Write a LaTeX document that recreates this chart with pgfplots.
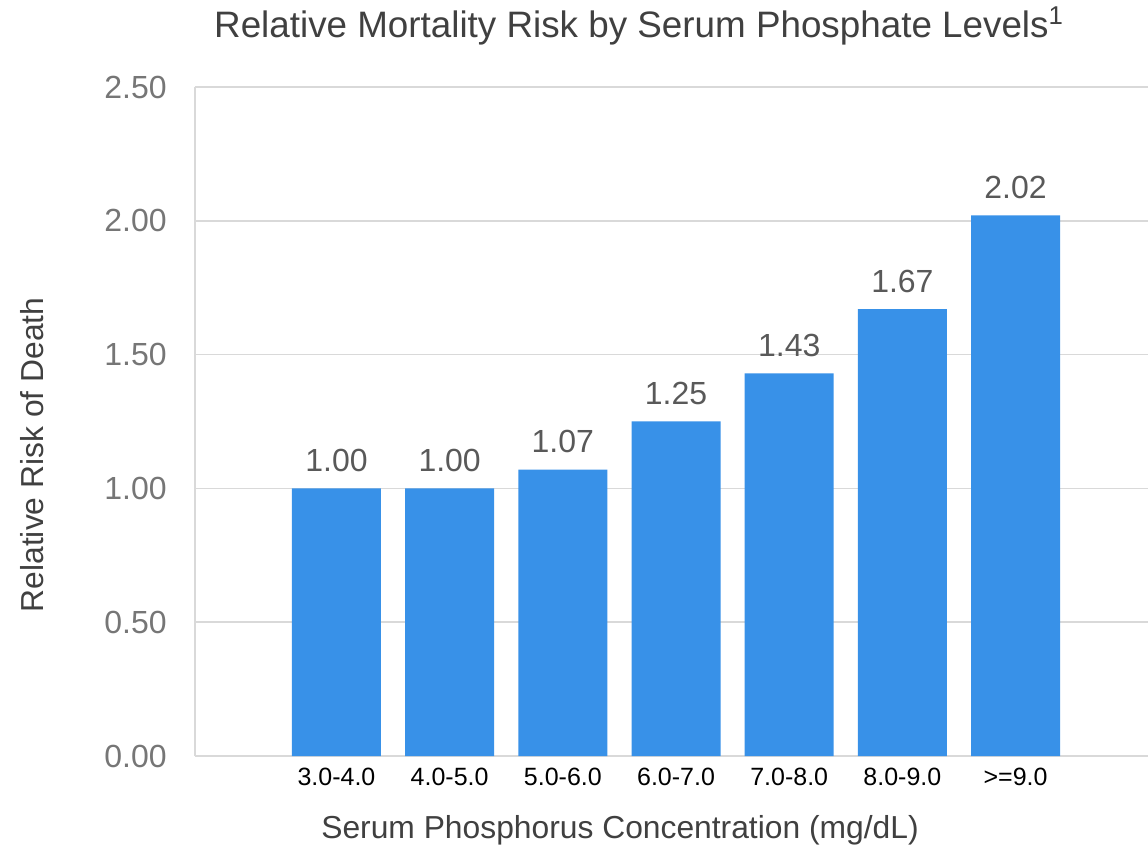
\documentclass[border=0pt]{standalone}
\usepackage{pgfplots}
\pgfplotsset{compat=1.18}
\usepackage{fontspec}
\setmainfont{Liberation Sans}
\definecolor{barblue}{RGB}{56,145,232}
\definecolor{gridgray}{RGB}{217,217,217}
\definecolor{ticgray}{RGB}{118,118,118}
\definecolor{lblgray}{RGB}{89,89,89}
\definecolor{txtgray}{RGB}{64,64,64}
\begin{document}
\begin{tikzpicture}
\useasboundingbox (-97.5pt,-45.5pt) rectangle (476.5pt,378pt);
\begin{axis}[
  at={(0pt,0pt)}, anchor=south west,
  scale only axis,
  width=476.5pt, height=334.5pt,
  ymin=0, ymax=2.5,
  xmin=-1.25, xmax=7.17,
  ytick={0,0.5,1,1.5,2,2.5},
  yticklabel style={/pgf/number format/.cd, fixed, fixed zerofill, precision=2, /tikz/.cd, font=\fontsize{16}{19}\selectfont, color=ticgray, inner sep=0pt, xshift=-14pt},
  /pgf/number format/assume math mode=true,
  xtick={0,1,2,3,4,5,6},
  xticklabels={3.0-4.0,4.0-5.0,5.0-6.0,6.0-7.0,7.0-8.0,8.0-9.0,>=9.0},
  xticklabel style={font=\fontsize{12.5}{15}\selectfont, color=black, inner sep=0pt, yshift=-6pt},
  major tick length=0pt,
  ymajorgrids, grid style={gridgray, line width=0.8pt},
  separate axis lines,
  axis x line=box, axis y line=left,
  axis line style={gridgray, line width=0.8pt, -},
  ybar, bar width=44.5pt,
  nodes near coords,
  nodes near coords style={/pgf/number format/.cd, fixed, fixed zerofill, precision=2, assume math mode=true, /tikz/.cd, font=\fontsize{16}{19}\selectfont, color=lblgray, inner sep=0pt, anchor=south, yshift=8pt},
  xlabel={Serum Phosphorus Concentration (mg/dL)},
  xlabel style={at={(axis description cs:0.446,0)}, anchor=center, yshift=-37pt, font=\fontsize{15.9}{19}\selectfont, color=txtgray},
  ylabel={Relative Risk of Death},
  ylabel style={at={(axis description cs:0,0.45)}, anchor=center, yshift=81.5pt, font=\fontsize{15.9}{19}\selectfont, color=txtgray},
  title={Relative Mortality Risk by Serum Phosphate Levels\textsuperscript{1}},
  title style={at={(axis description cs:0.466,1)}, anchor=center, yshift=24.5pt, font=\fontsize{18.4}{22}\selectfont, color=txtgray},
  clip=false,
]
\addplot[fill=barblue, draw=none] coordinates {(0,1.00) (1,1.00) (2,1.07) (3,1.25) (4,1.43) (5,1.67) (6,2.02)};
\end{axis}
\end{tikzpicture}
\end{document}
